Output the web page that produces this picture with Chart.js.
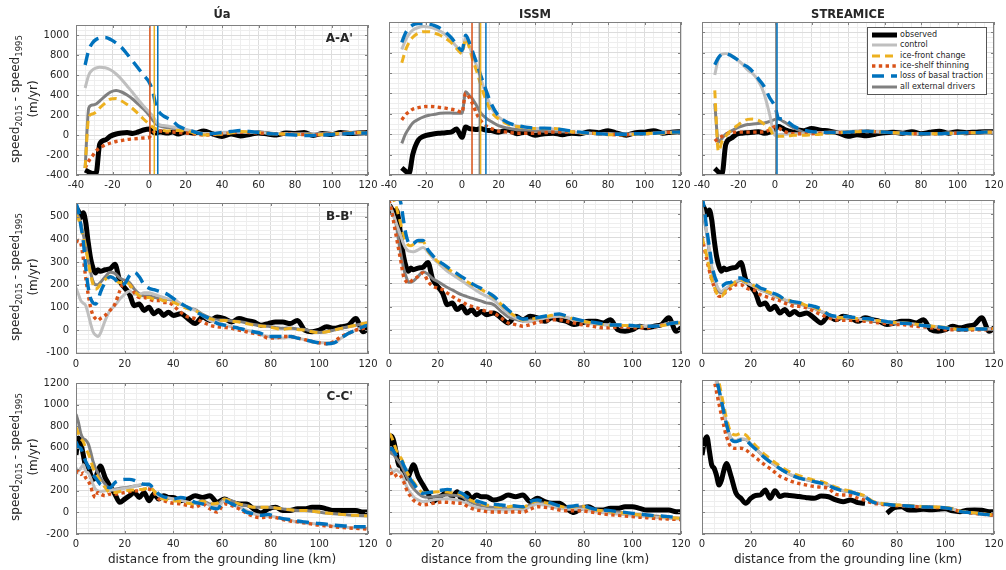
<!DOCTYPE html>
<html>
<head>
<meta charset="utf-8">
<script src="https://cdn.jsdelivr.net/npm/chart.js@4.4.1/dist/chart.umd.min.js"></script>
<style>
  body { margin: 0; background: #fff; width: 1006px; height: 570px; position: relative; overflow: hidden;
         font-family: "DejaVu Sans", sans-serif; color: #262626; }
  canvas { position: absolute; z-index: 1; }
  .t { position: absolute; white-space: nowrap; transform: translate(-50%, -50%); z-index: 2; }
  .title { font-weight: bold; font-size: 11.5px; }
  .plab { position: absolute; font-weight: bold; font-size: 12px; line-height: 12px; white-space: nowrap; z-index: 2; }
  .ylab { position: absolute; white-space: nowrap; font-size: 12px; line-height: 18px; text-align: center; z-index: 2;
          transform: translate(-50%, -50%) rotate(-90deg); }
  .ylab sub { font-size: 8.5px; line-height: 0; vertical-align: -3px; }
  .xlab { font-size: 12px; }
  #legend { position: absolute; z-index: 5; left: 867px; top: 27px; width: 118px; height: 66px; border: 1px solid #555; background: #fff; }
  .lrow { position: absolute; left: 3px; height: 10px; font-size: 8px; line-height: 10px; white-space: nowrap; }
  .lrow svg { position: absolute; left: 0; top: 0; }
  .lrow span { position: absolute; left: 29px; top: 0; }
</style>
</head>
<body>
<div id="legend"></div>
<script>
// ---- distance grids (km) ----
const xA = [-35,-33,-31,-29,-27,-24,-21,-18,-15,-12, -9,-6,-3,0,2,4,6,8,10,13,
            16,20,25,30,35,40,45,50,55,60, 65,70,75,80,85,90,95,100,105,110, 115,120];
const xB = [0,1,2,3,4,5,6,7,8,9, 10,12,14,16,18,20,22,24,26,28, 30,32,34,36,38,40,43,46,49,
            52,55,58,61,64,67,70,73,76,79, 82,85,88,91,94,97,100,103,106,109, 112,115,118,120];

// ---- A-A' ----
const uaA_obs   = [-350,-370,-385,-385,-90,-50,-10,10,20,25, 15,30,50,60,30,20,30,25,20,30, 10,30,20,40,10,-15,10,-10,5,20, 10,0,20,15,25,-5,15,5,25,15, 20,25];
const uaA_ctrl  = [470,600,650,670,678,672,650,610,555,490, 425,355,290,230,190,130,100,95,90,80, 70,55,35,15,15,20,25,30,25,25, 20,15,15,10,10,10,10,10,15,20, 20,20];
const uaA_front = [-330,180,210,230,270,320,360,365,340,305, 265,215,160,110,80,60,50,45,40,45, 45,40,20,0,5,10,20,35,30,25, 15,10,10,5,5,0,5,10,15,20, 25,25];
const uaA_thin  = [-330,-260,-210,-160,-130,-100,-80,-65,-55,-45, -40,-35,-30,-25,20,40,40,35,30,30, 25,20,10,0,5,10,20,30,25,20, 15,10,10,5,5,0,5,10,15,20, 25,25];
const uaA_basal = [700,850,920,955,970,975,955,920,875,810, 740,670,600,530,440,280,220,190,170,140, 90,60,30,10,15,25,35,45,35,25, 15,10,5,0,-5,-5,0,5,10,15, 20,20];
const uaA_all   = [-330,270,300,310,340,390,430,445,430,400, 360,310,260,200,150,110,90,80,75,70, 60,50,30,10,15,20,25,30,25,25, 20,15,15,10,10,10,10,10,15,20, 20,20];

const isA_obs   = [null,-330,-360,-385,-200,-60,-20,-5,5,10, 15,20,50,-30,70,55,50,45,55,40, 35,20,40,5,20,-10,5,10,-5,10, 5,25,15,35,10,-10,15,20,35,10, 20,25];
const isA_ctrl  = [null,830,920,980,1020,1045,1055,1050,1035,1010, 975,920,860,800,955,870,760,670,560,400, 260,170,110,80,65,55,55,50,40,25, 15,10,5,5,0,0,5,5,10,15, 20,20];
const isA_front = [null,700,820,900,950,990,1005,1005,990,970, 940,900,840,790,935,850,720,620,500,340, 220,150,100,75,65,55,55,55,45,25, 15,10,5,-5,-5,-5,0,5,10,10, 15,20];
const isA_thin  = [null,140,190,220,245,260,270,272,270,262, 255,245,235,215,400,360,290,200,140,85, 55,30,20,10,10,10,15,20,20,20, 15,10,5,0,-5,-5,0,5,10,15, 20,20];
const isA_basal = [null,900,990,1040,1070,1085,1085,1080,1065,1040, 1000,950,880,820,970,900,800,700,590,440, 300,180,115,85,70,60,60,55,45,30, 20,10,5,0,0,0,5,5,10,15, 20,20];
const isA_all   = [null,-90,0,60,110,145,170,185,195,205, 208,207,205,205,415,380,340,280,215,160, 125,85,60,45,40,35,30,25,25,20, 15,10,5,5,0,0,5,5,10,15, 20,20];

const stA_obs   = [null,-335,-370,-390,-100,-40,0,10,15,20, 25,10,20,50,75,60,40,30,20,40, 35,55,40,30,10,-20,-5,-15,0,15, 20,10,25,5,20,30,10,25,15,20, 25,25];
const stA_ctrl  = [null,580,740,785,790,775,735,690,630,590, 520,400,200,-10,-5,0,0,5,5,5, 5,10,15,20,20,25,30,30,25,20, 15,10,5,5,5,5,10,10,15,15, 20,20];
const stA_front = [null,430,-170,-70,-20,40,80,120,145,150, 135,100,60,-30,-20,-20,-15,-15,-10,-10, -10,-5,0,10,15,20,25,30,25,20, 15,10,5,5,5,5,10,10,15,15, 20,20];
const stA_thin  = [null,-70,-40,-20,0,15,20,20,20,20, 20,25,40,75,60,40,20,10,5,5, 5,5,10,15,15,20,25,30,25,20, 15,10,5,5,5,5,10,10,15,15, 20,20];
const stA_basal = [null,680,750,785,790,770,735,690,660,610, 540,470,360,270,155,150,135,110,80,55, 40,25,20,15,15,20,25,30,25,20, 15,10,5,5,5,5,10,10,15,15, 20,20];
const stA_all   = [null,300,-80,-40,0,30,60,80,95,100, 105,110,125,145,150,130,110,85,65,40, 15,10,15,20,20,25,30,30,25,20, 15,10,5,5,5,5,10,10,15,15, 20,20];

// grounding-line positions (km) drawn as vertical lines in A-A'
const glUa = [0.5, 2.9, 4.8];          const glUaKind = ['thin', 'front', 'basal'];
const glIs = [5.5, 9.5, 10.2, 13.1];   const glIsKind = ['thin', 'all', 'front', 'basal'];
const glSt = [0.5, 1.1];               const glStKind = ['all', 'basal'];

// ---- B-B' ----
const obsB      = [539,524,496,517,474,388,316,273,252,266, 259,266,270,290,216,187,158,108,115,87, 101,72,87,65,79,65,72,51,29, 58,43,58,51,36,51,43,36,22,29, 36,36,29,43,0,-7,0,15,8,15, 22,51,-7,8];
const uaB_ctrl  = [187,158,130,119,108,72,29,-7,-21,-28, -14,43,87,108,137,158,173,158,158,165, 165,158,151,144,137,137,115,101,87, 65,43,36,22,15,8,0,-7,-21,-28, -35,-35,-28,-35,-42,-50,-56,-56,-56,-35, -14,0,15,22];
const uaB_front = [510,489,460,410,360,302,245,201,180,187, 201,223,237,223,209,216,201,173,151,144, 144,137,137,130,130,122,108,94,87, 65,51,43,43,39,36,29,22,18,15, 8,3,8,3,0,-7,-11,-7,0,8, 15,22,29,32];
const uaB_thin  = [388,395,381,316,230,158,101,65,51,43, 51,65,87,115,173,216,201,165,144,144, 137,130,130,122,122,108,79,58,51, 36,22,15,12,8,0,-7,-14,-21,-35, -35,-28,-28,-35,-42,-50,-56,-60,-50,-28, -14,0,8,15];
const uaB_basal = [560,525,460,390,275,190,140,120,115,130, 165,210,235,225,200,205,240,255,235,200, 185,178,172,165,155,140,118,100,82, 65,50,30,22,15,8,0,-7,-14,-28, -28,-28,-28,-35,-42,-50,-56,-60,-56,-35, -14,0,15,22];
const uaB_all   = [520,500,470,420,370,310,255,215,200,200, 210,235,255,250,230,220,210,180,160,150, 150,145,140,138,135,132,115,100,90, 70,55,45,45,40,38,32,25,20,17, 12,8,10,5,3,-5,-10,-7,0,8, 15,22,28,32];

const isB_ctrl  = [545,520,490,460,430,400,370,350,340,338, 336,345,355,335,310,290,270,252,238,224, 210,196,182,168,155,145,128,100,70, 52,38,35,42,50,55,58,52,45,38, 30,24,22,20,20,18,15,15,15,15, 20,28,30,30];
const isB_front = [640,600,560,530,490,450,410,380,365,362, 368,380,380,340,315,295,280,265,250,237, 222,208,195,183,173,160,140,110,80, 57,42,45,50,55,62,66,56,46,38, 32,27,22,18,18,18,16,14,14,14, 17,23,28,30];
const isB_thin  = [560,517,460,402,345,288,230,209,201,209, 216,230,245,209,187,180,173,158,144,130, 122,108,101,94,87,79,72,51,29, 22,15,22,32,36,43,43,36,29,22, 18,12,8,8,12,12,8,8,8,12, 18,26,29,32];
const isB_basal = [750,700,660,620,580,540,470,410,375,368, 372,385,385,345,320,300,285,270,255,242, 228,214,200,188,178,165,145,115,85, 60,45,48,52,58,65,68,58,48,40, 35,30,25,20,20,20,18,15,15,15, 18,25,30,32];
const isB_all   = [540,520,490,450,380,320,265,230,205,205, 210,230,250,240,220,208,195,182,172,160, 150,143,136,130,123,116,108,80,55, 45,38,40,45,52,58,60,52,44,37, 30,24,22,20,20,18,15,15,15,15, 20,27,30,30];

const stB_ctrl  = [532,480,417,345,273,230,194,173,165,173, 180,194,209,216,204,194,184,173,165,158, 146,137,130,122,115,115,101,94,79, 65,51,51,51,46,43,40,36,32,29, 29,27,22,18,15,12,8,3,0,0, 3,3,3,3];
const stB_front = [402,360,316,265,216,185,158,144,144,155, 173,190,209,216,206,197,187,177,168,160, 150,140,133,126,119,117,104,96,82, 67,53,52,51,48,45,42,38,34,31, 30,28,24,20,16,13,10,5,2,2, 4,4,4,4];
const stB_thin  = [402,350,302,255,216,185,158,144,144,155, 165,180,194,194,180,173,168,151,144,137, 130,125,115,108,101,101,94,79,65, 51,43,40,40,39,36,33,29,26,22, 22,18,15,12,8,5,0,0,-3,-3, 0,0,0,3];
const stB_basal = [580,517,431,359,288,237,209,194,187,194, 201,205,223,223,213,209,194,180,173,162, 155,145,130,124,120,117,108,101,89, 65,58,58,55,51,48,45,40,35,30, 28,27,22,18,15,12,8,3,0,0, 3,3,3,3];
const stB_all   = [520,470,410,335,265,220,185,165,160,168, 176,190,205,212,202,193,183,172,164,156, 145,136,128,120,114,113,100,92,78, 64,50,50,50,46,43,40,36,32,29, 28,26,22,18,15,12,8,3,0,0, 3,3,3,3];

// ---- C-C' ----
const obsC      = [533,690,640,533,427,420,352,306,321,382, 430,321,245,170,94,124,155,185,139,185, 109,170,124,155,139,139,109,124,155, 139,155,94,124,94,79,79,33,-5,33, 48,18,18,33,33,48,48,33,18,18, 18,18,3,3];
const uaC_ctrl  = [412,382,412,442,382,367,321,261,215,200, 195,200,206,208,215,224,230,245,255,261, 245,200,155,139,133,124,115,94,85, 94,64,48,109,79,48,18,-12,-27,-36, -42,-58,-73,-88,-97,-103,-109,-118,-127,-133, -139,-142,-145,-148];
const uaC_front = [791,730,685,655,594,548,488,412,367,327, 291,230,185,185,194,200,206,209,212,215, 230,200,139,124,118,109,100,85,79, 103,79,85,124,103,79,64,48,48,48, 42,33,24,18,18,12,3,-6,-12,-18, -24,-27,-30,-33];
const uaC_thin  = [367,382,352,367,321,291,245,170,139,185, 170,155,170,170,176,185,194,200,200,215, 215,185,124,110,94,85,79,64,48, 79,33,3,79,64,33,-6,-36,-48,-42, -48,-67,-79,-88,-97,-109,-118,-124,-133,-139, -145,-148,-151,-155];
const uaC_basal = [655,609,594,533,473,427,382,352,321,291, 261,245,230,276,297,306,306,297,276,261, 261,215,170,145,135,124,139,124,94, 79,48,33,109,79,48,3,-12,-27,-18, -42,-58,-67,-79,-88,-97,-103,-109,-118,-124, -127,-133,-133,-133];
const uaC_all   = [912,836,730,685,670,639,564,473,412,367, 321,261,215,215,224,230,235,245,250,261, 245,200,155,139,133,124,115,94,85, 109,79,79,124,109,79,64,48,48,48, 42,33,24,18,18,12,3,-6,-12,-18, -24,-27,-30,-33];

const isC_ctrl  = [412,382,367,382,367,352,306,245,200,170, 139,109,94,100,109,115,118,121,115,109, 94,79,55,39,33,24,18,18,18, 24,18,48,73,64,48,33,24,24,24, 18,3,-6,-12,-18,-24,-30,-36,-42,-48, -52,-58,-61,-64];
const isC_front = [715,685,624,564,518,488,442,382,336,306, 276,215,176,176,179,185,185,182,176,170, 155,124,103,85,73,64,55,48,48, 55,42,79,103,85,73,55,42,48,55, 33,18,12,3,-6,-12,-18,-27,-33,-36, -42,-48,-55,-58];
const isC_thin  = [427,352,321,336,345,321,276,215,170,139, 109,79,64,70,79,85,91,88,85,79, 79,55,33,18,12,3,0,0,-3, 3,-3,24,48,42,33,18,12,12,12, 3,-6,-18,-24,-30,-36,-42,-48,-52,-58, -61,-64,-67,-70];
const isC_basal = [564,579,548,518,488,473,427,382,336,291, 261,200,170,176,182,191,200,206,200,185, 170,139,115,100,88,73,70,64,58, 55,48,94,109,94,79,55,48,55,64, 42,24,18,12,3,-3,-12,-18,-27,-33, -36,-42,-48,-55];
const isC_all   = [564,533,518,488,458,427,382,336,291,245, 215,170,139,133,139,145,150,155,152,148, 139,109,85,70,58,48,42,33,33, 42,33,64,85,79,64,48,39,42,48, 33,18,12,3,-3,-9,-18,-24,-30,-36, -42,-48,-55,-58];

const stC_obs   = [518,640,685,560,427,397,330,245,290,380, 442,320,170,124,79,124,150,155,200,124, 194,140,155,150,145,140,130,124,145, 139,110,94,110,85,79,null,null,-12,40, 48,18,18,25,20,25,30,10,3,15, 18,15,3,3];
const stC_ctrl  = [2000,1850,1700,1560,1430,1310,1200,1100,1000,900, 800,670,650,665,660,620,580,535,495,460, 428,398,370,345,325,310,295,278,265, 245,215,195,185,165,140,95,78,70,64, 60,56,52,48,46,43,40,28,8,-2, -10,-17,-24,-30];
const stC_front = [2100,1950,1800,1650,1520,1400,1280,1180,1070,960, 860,720,700,715,700,650,605,560,520,485, 450,420,390,365,345,330,310,290,278, 255,225,205,192,170,145,100,82,72,66, 62,58,54,50,48,45,42,30,10,0, -8,-15,-22,-27];
const stC_thin  = [1900,1750,1600,1460,1330,1200,1090,980,880,780, 690,590,578,580,565,530,495,460,425,395, 360,325,305,285,270,258,245,232,225, 215,160,155,150,125,105,82,72,64,58, 55,52,48,45,42,40,38,25,5,-5, -12,-20,-26,-32];
const stC_basal = [2020,1870,1720,1580,1450,1330,1210,1110,1010,905, 805,660,640,655,650,612,572,528,490,455, 424,395,368,344,324,308,292,276,262, 240,212,192,182,162,137,92,76,68,62, 58,54,50,46,44,41,38,26,6,-4, -12,-19,-26,-32];
const stC_all   = [2000,1850,1700,1560,1430,1310,1200,1100,1000,900, 800,668,648,662,658,618,578,533,493,458, 426,396,368,343,323,308,293,276,263, 243,213,193,183,163,138,93,77,69,63, 59,55,51,47,45,42,39,27,7,-3, -11,-18,-25,-31];

const models = ['Úa', 'ISSM', 'STREAMICE'];
const sections = ["A-A'", "B-B'", "C-C'"];

const STY = {
  obs:   { label: 'observed',               color: '#000000', width: 5,   dash: [],         order: 10 },
  ctrl:  { label: 'control',                color: '#bfbfbf', width: 3,   dash: [],         order: 8 },
  front: { label: 'ice-front change',       color: '#edb120', width: 3,   dash: [8, 5],     order: 6 },
  thin:  { label: 'ice-shelf thinning',     color: '#d95319', width: 3.4, dash: [3.4, 3.4], order: 7 },
  basal: { label: 'loss of basal traction', color: '#0072bd', width: 3.4, dash: [12, 7],    order: 5 },
  all:   { label: 'all external drivers',   color: '#808080', width: 3,   dash: [],         order: 9 }
};
const KEYS = ['obs', 'ctrl', 'front', 'thin', 'basal', 'all'];

const panels = [
  [ { obs: uaA_obs, ctrl: uaA_ctrl, front: uaA_front, thin: uaA_thin, basal: uaA_basal, all: uaA_all, gl: glUa, glKind: glUaKind },
    { obs: isA_obs, ctrl: isA_ctrl, front: isA_front, thin: isA_thin, basal: isA_basal, all: isA_all, gl: glIs, glKind: glIsKind },
    { obs: stA_obs, ctrl: stA_ctrl, front: stA_front, thin: stA_thin, basal: stA_basal, all: stA_all, gl: glSt, glKind: glStKind } ],
  [ { obs: obsB, ctrl: uaB_ctrl, front: uaB_front, thin: uaB_thin, basal: uaB_basal, all: uaB_all },
    { obs: obsB, ctrl: isB_ctrl, front: isB_front, thin: isB_thin, basal: isB_basal, all: isB_all },
    { obs: obsB, ctrl: stB_ctrl, front: stB_front, thin: stB_thin, basal: stB_basal, all: stB_all } ],
  [ { obs: obsC, ctrl: uaC_ctrl, front: uaC_front, thin: uaC_thin, basal: uaC_basal, all: uaC_all },
    { obs: obsC, ctrl: isC_ctrl, front: isC_front, thin: isC_thin, basal: isC_basal, all: isC_all },
    { obs: stC_obs, ctrl: stC_ctrl, front: stC_front, thin: stC_thin, basal: stC_basal, all: stC_all } ]
];

const rows = [
  { x: xA, xmin: -40, xmax: 120, ymin: -400, ymax: 1100, yMinor: 50, yMajor: 200 },
  { x: xB, xmin: 0,   xmax: 120, ymin: -105, ymax: 560,  yMinor: 20, yMajor: 100 },
  { x: xB, xmin: 0,   xmax: 120, ymin: -200, ymax: 1200, yMinor: 50, yMajor: 200 }
];

// layout (px)
const colLeft = [76, 389, 702], plotW = 292;
const rowTop = [22, 200, 380], rowH = [153, 154, 154];
const PL = 50, PR = 16, PT = 10, PB = 24;
const TXT = '#262626', MAJ = '#dcdcdc', MIN = '#eeeeee', FRAME = '#808080';
const FONT = { family: 'DejaVu Sans', size: 10 };

function gridTicks(min, max, step) {
  const t = [];
  for (let v = Math.ceil(min / step) * step; v <= max + 1e-9; v += step) t.push({ value: v });
  return t;
}

const frame = {
  id: 'frame',
  afterDraw(chart, args, opts) {
    const { ctx, chartArea: a, scales: { x, y } } = chart;
    ctx.save();
    ctx.strokeStyle = FRAME;
    ctx.lineWidth = 1;
    ctx.strokeRect(a.left + 0.5, a.top + 0.5, a.right - a.left - 1, a.bottom - a.top - 1);
    ctx.beginPath();
    x.ticks.forEach(t => {
      if (t.value % 20 !== 0) return;
      const px = Math.round(x.getPixelForValue(t.value)) + 0.5;
      ctx.moveTo(px, a.bottom); ctx.lineTo(px, a.bottom - 3);
      ctx.moveTo(px, a.top); ctx.lineTo(px, a.top + 3);
    });
    y.ticks.forEach(t => {
      if (t.value % opts.yMajor !== 0) return;
      const py = Math.round(y.getPixelForValue(t.value)) + 0.5;
      ctx.moveTo(a.left, py); ctx.lineTo(a.left + 3, py);
      ctx.moveTo(a.right, py); ctx.lineTo(a.right - 3, py);
    });
    ctx.stroke();
    ctx.restore();
  }
};

function makePanel(r, c) {
  const row = rows[r], p = panels[r][c];
  const cv = document.createElement('canvas');
  cv.width = PL + plotW + PR;
  cv.height = PT + rowH[r] + PB;
  cv.style.left = (colLeft[c] - PL) + 'px';
  cv.style.top = (rowTop[r] - PT) + 'px';
  document.body.appendChild(cv);

  const datasets = KEYS.map(k => ({
    label: STY[k].label,
    data: row.x.map((x, i) => ({ x, y: p[k][i] })),
    borderColor: STY[k].color,
    borderWidth: STY[k].width,
    borderDash: STY[k].dash,
    order: STY[k].order,
    cubicInterpolationMode: 'monotone',
    spanGaps: false,
    clip: 0
  }));
  (p.gl || []).forEach((g, i) => {
    datasets.push({
      data: [{ x: g, y: row.ymin }, { x: g, y: row.ymax }],
      borderColor: STY[p.glKind[i]].color,
      borderWidth: 1.5,
      order: 1 - i * 0.1,
      clip: 0
    });
  });

  new Chart(cv, {
    type: 'line',
    data: { datasets },
    options: {
      responsive: false,
      animation: false,
      events: [],
      layout: { padding: { left: 0, top: PT, right: PR, bottom: 0 } },
      elements: { point: { radius: 0 }, line: { borderCapStyle: 'butt', borderJoinStyle: 'round' } },
      plugins: { legend: { display: false }, tooltip: { enabled: false }, frame: { yMajor: row.yMajor } },
      scales: {
        x: {
          type: 'linear', min: row.xmin, max: row.xmax,
          afterBuildTicks: s => { s.ticks = gridTicks(row.xmin, row.xmax, 5); },
          afterFit: s => { s.height = PB; },
          ticks: { autoSkip: false, maxRotation: 0, padding: 4, color: TXT, font: FONT,
                   callback: v => (v % 20 === 0 ? String(v) : '') },
          grid: { drawTicks: false, color: ctx => (ctx.tick && ctx.tick.value % 20 === 0 ? MAJ : MIN) },
          border: { display: false }
        },
        y: {
          type: 'linear', min: row.ymin, max: row.ymax,
          afterBuildTicks: s => { s.ticks = gridTicks(row.ymin, row.ymax, row.yMinor); },
          afterFit: s => { s.width = PL; },
          ticks: { display: c === 0, autoSkip: false, padding: 7, color: TXT, font: FONT,
                   callback: v => (v % row.yMajor === 0 ? String(v) : '') },
          grid: { drawTicks: false, color: ctx => (ctx.tick && ctx.tick.value % row.yMajor === 0 ? MAJ : MIN) },
          border: { display: false }
        }
      }
    },
    plugins: [frame]
  });
}

for (let r = 0; r < 3; r++) for (let c = 0; c < 3; c++) makePanel(r, c);

function addText(cls, html, css) {
  const d = document.createElement('div');
  d.className = cls;
  d.innerHTML = html;
  Object.assign(d.style, css);
  document.body.appendChild(d);
  return d;
}

models.forEach((m, c) => addText('t title', m, { left: (colLeft[c] + plotW / 2) + 'px', top: '14px' }));
sections.forEach((s, r) => addText('plab', s, { right: (1006 - (colLeft[0] + plotW - 15)) + 'px', top: (rowTop[r] + 10) + 'px' }));
rows.forEach((row, r) => addText('ylab', 'speed<sub>2015</sub> - speed<sub>1995</sub><br>(m/yr)',
  { left: '24px', top: (rowTop[r] + rowH[r] / 2) + 'px' }));
models.forEach((m, c) => addText('t xlab', 'distance from the grounding line (km)',
  { left: (colLeft[c] + plotW / 2) + 'px', top: '559px' }));

// legend
const leg = document.getElementById('legend');
KEYS.forEach((k, i) => {
  const s = STY[k];
  const d = document.createElement('div');
  d.className = 'lrow';
  d.style.top = (2 + 10.35 * i) + 'px';
  d.style.width = '112px';
  d.innerHTML = `<svg width="27" height="10"><line x1="1" y1="5" x2="26" y2="5" stroke="${s.color}" stroke-width="${s.width}" stroke-dasharray="${s.dash.join(' ') || 'none'}"/></svg><span>${s.label}</span>`;
  leg.appendChild(d);
});
</script>
</body>
</html>
